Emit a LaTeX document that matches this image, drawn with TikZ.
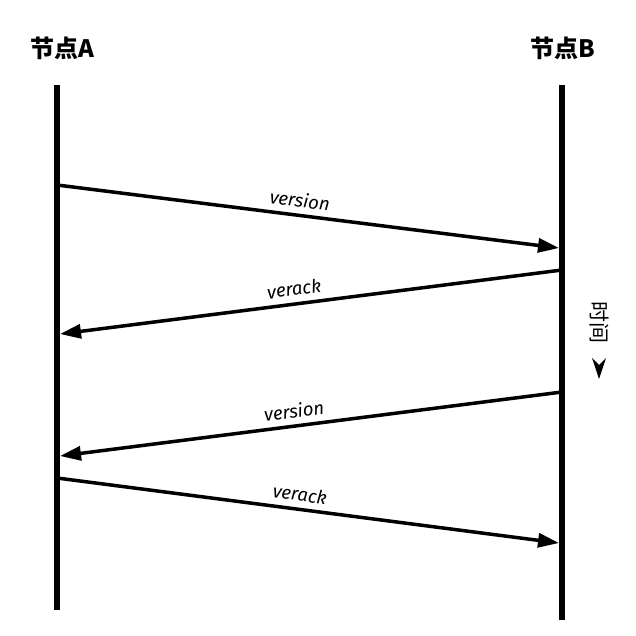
\documentclass[tikz,border=0pt]{standalone}
\usepackage{fontspec}
\setmainfont{Fira Sans}
\newfontfamily\cjk{Noto Sans CJK SC}
\usepackage{tikz}
\usetikzlibrary{arrows.meta,positioning}

\begin{document}
\begin{tikzpicture}[x=1pt,y=-1pt,
  lifeline/.style={line width=6.5pt},
  msg/.style={line width=3.5pt,-{Triangle[length=21pt,width=14pt]}},
  msglabel/.style={above=3pt,sloped,font=\fontsize{18.5}{20}\selectfont\itshape},
  peer/.style={font=\cjk\bfseries\fontsize{24}{26}\selectfont}]
  \useasboundingbox (0,0) rectangle (636,635);
  \node[peer] (nodeA) at (62,48) {节点A};
  \node[peer] (nodeB) at (563,48) {节点B};
  % lifelines
  \coordinate (aTop) at (57,85);  \coordinate (aBot) at (57,610);
  \coordinate (bTop) at (562,85); \coordinate (bBot) at (562,620);
  \draw[lifeline] (aTop) -- (aBot);
  \draw[lifeline] (bTop) -- (bBot);
  % message ends
  \coordinate (a1) at (57,185);  \coordinate (b1) at (559,248);
  \coordinate (b2) at (562,270); \coordinate (a2) at (60,334);
  \coordinate (b3) at (562,392); \coordinate (a3) at (60,456);
  \coordinate (a4) at (57,478);  \coordinate (b4) at (559,543);
  \draw[msg] (a1) -- (b1) node[msglabel,pos=0.48] (m1) {version};
  \draw[msg] (b2) -- (a2) node[msglabel,pos=0.53] (m2) {verack};
  \draw[msg] (b3) -- (a3) node[msglabel,pos=0.53] (m3) {version};
  \draw[msg] (a4) -- (b4) node[msglabel,pos=0.48] (m4) {verack};
  % time
  \node[font=\cjk\fontsize{21}{22}\selectfont,rotate=-90] (timeLabel) at (599,322) {时间};
  \fill (592,358) -- (599,379) -- (606,358) -- (599,365) -- cycle;
\end{tikzpicture}
\end{document}
